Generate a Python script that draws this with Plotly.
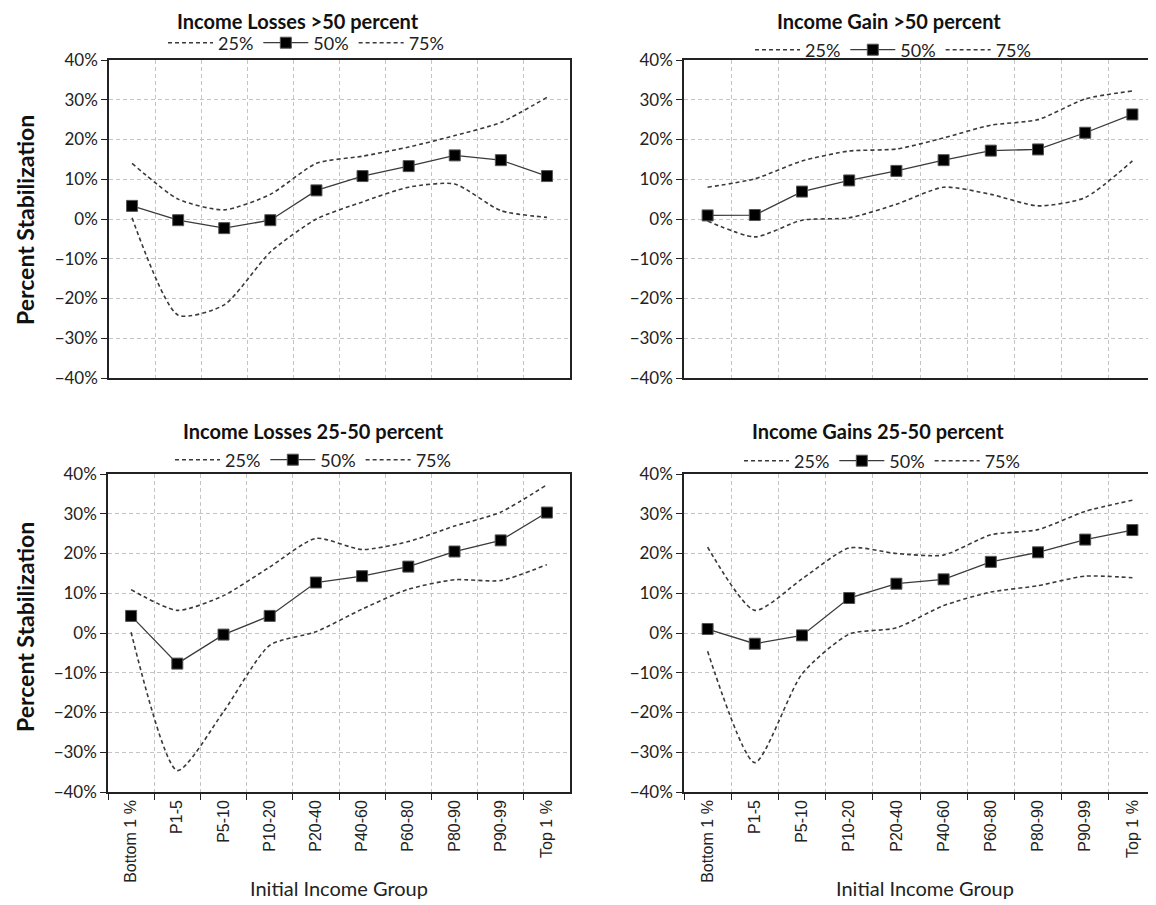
import plotly.graph_objects as go

# ---------------- data ----------------
groups = ["Bottom 1 %", "P1-5", "P5-10", "P10-20", "P20-40", "P40-60",
          "P60-80", "P80-90", "P90-99", "Top 1 %"]

panel_titles = ["Income Losses >50 percent", "Income Gain >50 percent",
                "Income Losses 25-50 percent", "Income Gains 25-50 percent"]

series_names = ["25%", "50%", "75%"]

# Income Losses >50 percent
loss50_p25 = [0.3, -24.2, -21.6, -8.3, 0.0, 4.3, 8.0, 8.8, 2.1, 0.4]
loss50_p50 = [3.3, -0.3, -2.3, -0.3, 7.2, 10.8, 13.3, 16.0, 14.8, 10.8]
loss50_p75 = [14.0, 5.0, 2.3, 6.2, 14.0, 15.8, 18.1, 21.0, 24.3, 30.6]

# Income Gain >50 percent
gain50_p25 = [-0.5, -4.5, -0.3, 0.3, 3.7, 8.0, 6.2, 3.3, 5.4, 14.6]
gain50_p50 = [0.9, 1.0, 6.9, 9.7, 12.1, 14.8, 17.2, 17.5, 21.7, 26.3]
gain50_p75 = [8.0, 10.1, 14.6, 17.1, 17.6, 20.4, 23.6, 25.0, 30.2, 32.2]

# Income Losses 25-50 percent
loss2550_p25 = [0.2, -34.6, -19.8, -3.1, 0.3, 6.0, 11.0, 13.4, 13.2, 17.2]
loss2550_p50 = [4.3, -7.7, -0.4, 4.3, 12.7, 14.3, 16.7, 20.5, 23.3, 30.3]
loss2550_p75 = [10.9, 5.7, 9.4, 16.6, 23.8, 21.0, 23.0, 26.9, 30.4, 37.3]

# Income Gains 25-50 percent
gain2550_p25 = [-4.6, -32.6, -10.3, -0.3, 1.3, 6.9, 10.3, 11.9, 14.3, 13.9]
gain2550_p50 = [1.0, -2.7, -0.6, 8.8, 12.4, 13.5, 17.9, 20.3, 23.5, 25.9]
gain2550_p75 = [21.6, 5.7, 13.6, 21.4, 20.0, 19.6, 24.7, 26.0, 30.6, 33.4]

panels = [
    (loss50_p25, loss50_p50, loss50_p75),
    (gain50_p25, gain50_p50, gain50_p75),
    (loss2550_p25, loss2550_p50, loss2550_p75),
    (gain2550_p25, gain2550_p50, gain2550_p75),
]

# ---------------- layout helpers ----------------
# the page body adds an 8px margin, so the figure is drawn 8px smaller
OFF = 8
W, H = 1156 - OFF, 905 - OFF
FONT = "Lato"


def px_x(v):
    return (v - OFF) / W


def px_y(v):
    return 1 - (v - OFF) / H


# plot-area pixel boxes in screen pixels: (left, right, top, bottom)
boxes = [
    (109, 570, 60, 378),
    (684, 1157, 60, 378),
    (108, 570, 474, 792),
    (684, 1157, 474, 792),
]
# (x centre, y top of text box)
title_pos = [(298, 8), (889, 8), (313, 418), (878, 418)]
legend_pos = [(306, 43), (893, 50), (313, 460), (882, 461)]

fig = go.Figure()
line_col = "#3a3a3a"

for i, (p25, p50, p75) in enumerate(panels):
    ax = "" if i == 0 else str(i + 1)
    leg = "legend" if i == 0 else f"legend{i + 1}"
    common = dict(x=groups, xaxis="x" + ax, yaxis="y" + ax, legend=leg,
                  showlegend=True)
    fig.add_trace(go.Scatter(y=p25, name=series_names[0], mode="lines",
                             line=dict(color=line_col, width=1.6, dash="4px,3px",
                                       shape="spline", smoothing=0.65),
                             **common))
    fig.add_trace(go.Scatter(y=p50, name=series_names[1], mode="lines+markers",
                             line=dict(color=line_col, width=1.3),
                             marker=dict(symbol="square", size=11, color="black",
                                         line=dict(color="#555555", width=1)),
                             **common))
    fig.add_trace(go.Scatter(y=p75, name=series_names[2], mode="lines",
                             line=dict(color=line_col, width=1.6, dash="4px,3px",
                                       shape="spline", smoothing=0.65),
                             **common))

layout = dict(
    width=W, height=H,
    margin=dict(l=0, r=0, t=0, b=0, autoexpand=False),
    paper_bgcolor="white", plot_bgcolor="white",
    font=dict(family=FONT, color="#222222", size=15),
    annotations=[],
)

for i, (l, r, t, b) in enumerate(boxes):
    ax = "" if i == 0 else str(i + 1)
    bottom_row = i >= 2
    layout["xaxis" + ax] = dict(
        domain=[px_x(l), min(px_x(r), 1.0)],
        anchor="y" + ax,
        type="category",
        range=[-0.5, 9.5],
        tickson="boundaries",
        automargin=False,
        showgrid=True, gridcolor="#c4c4c4", griddash="4px,3px", gridwidth=1,
        showline=True, linecolor="#222222", linewidth=1.5, mirror=True,
        ticks="outside" if bottom_row else "", ticklen=6, tickcolor="#222222",
        showticklabels=bottom_row, tickangle=-90,
        tickfont=dict(family="Liberation Sans", size=16, color="#222222"),
        zeroline=False,
    )
    layout["yaxis" + ax] = dict(
        domain=[px_y(b), px_y(t)],
        anchor="x" + ax,
        range=[-40, 40], dtick=10, tick0=0, ticksuffix="%",
        automargin=False,
        showgrid=True, gridcolor="#c4c4c4", griddash="4px,3px", gridwidth=1,
        showline=True, linecolor="#222222", linewidth=1.5, mirror=True,
        ticks="outside", ticklen=6, tickcolor="#222222",
        tickfont=dict(family=FONT, size=17, color="#222222"),
        zeroline=False,
    )
    leg = "legend" if i == 0 else f"legend{i + 1}"
    lx, ly = legend_pos[i]
    layout[leg] = dict(
        orientation="h", x=px_x(lx), y=px_y(ly), xanchor="center",
        xref="container", yref="container",
        yanchor="middle", bgcolor="rgba(0,0,0,0)",
        font=dict(family=FONT, size=18, color="#222222"),
        itemwidth=45, traceorder="normal",
    )
    tx, ty = title_pos[i]
    layout["annotations"].append(dict(
        text=f"<b>{panel_titles[i]}</b>", x=px_x(tx), y=px_y(ty),
        xref="paper", yref="paper", showarrow=False,
        font=dict(family=FONT, size=20, color="#111111"),
        xanchor="center", yanchor="top", borderpad=0))

# y-axis titles (left column)
for yc in (220, 627):
    layout["annotations"].append(dict(
        text="<b>Percent Stabilization</b>", x=px_x(25), y=px_y(yc),
        xref="paper", yref="paper", showarrow=False, textangle=-90,
        font=dict(family=FONT, size=23, color="#111111"),
        xanchor="center", yanchor="middle"))

# x-axis titles (bottom row)
for xc in (339, 925):
    layout["annotations"].append(dict(
        text="Initial Income Group", x=px_x(xc), y=px_y(888),
        xref="paper", yref="paper", showarrow=False,
        font=dict(family=FONT, size=20, color="#222222"),
        xanchor="center", yanchor="middle"))

fig.update_layout(**layout)
fig.write_html("out.html")
